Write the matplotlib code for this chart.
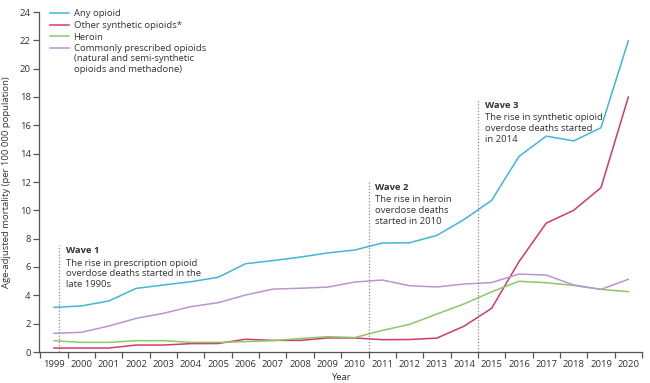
import numpy as np
import matplotlib.pyplot as plt
from matplotlib.ticker import FixedLocator, NullFormatter

plt.rcParams['font.family'] = ['Open Sans', 'DejaVu Sans']

years = list(range(1999, 2021))
any_opioid = [3.15, 3.25, 3.6, 4.49, 4.73, 4.96, 5.27, 6.23, 6.45, 6.7, 6.99, 7.2,
              7.69, 7.71, 8.23, 9.36, 10.7, 13.8, 15.24, 14.9, 15.83, 21.97]
other_synthetic = [0.28, 0.28, 0.28, 0.49, 0.49, 0.59, 0.6, 0.9, 0.82, 0.82, 0.99, 0.99,
                   0.87, 0.88, 0.98, 1.83, 3.08, 6.37, 9.1, 10.0, 11.6, 18.0]
heroin = [0.8, 0.68, 0.68, 0.8, 0.8, 0.68, 0.68, 0.73, 0.8, 0.95, 1.08, 1.02,
          1.52, 1.95, 2.68, 3.4, 4.25, 4.99, 4.89, 4.7, 4.42, 4.26]
prescribed = [1.32, 1.39, 1.83, 2.37, 2.73, 3.2, 3.48, 4.02, 4.44, 4.5, 4.58, 4.94,
              5.08, 4.68, 4.59, 4.8, 4.9, 5.5, 5.43, 4.73, 4.42, 5.13]

series = [
    ("Any opioid", any_opioid, "#41b6d6"),
    ("Other synthetic opioids*", other_synthetic, "#d23a6c"),
    ("Heroin", heroin, "#8cc76e"),
    ("Commonly prescribed opioids", prescribed, "#b895d3"),
]
legend_extra = "(natural and semi-synthetic\nopioids and methadone)"

waves = [
    (1999.18, 7.55, 1999.44, "Wave 1", "The rise in prescription opioid\noverdose deaths started in the\nlate 1990s"),
    (2010.5, 12.0, 2010.72, "Wave 2", "The rise in heroin\noverdose deaths\nstarted in 2010"),
    (2014.5, 17.8, 2014.77, "Wave 3", "The rise in synthetic opioid\noverdose deaths started\nin 2014"),
]

text_col = "#333333"
axis_col = "#555555"

fig = plt.figure(figsize=(6.5, 3.83), dpi=100)
ax = fig.add_axes([39 / 650, 31 / 383, 603 / 650, 340 / 383])

for name, vals, col in series:
    ax.plot(years, vals, color=col, lw=1.1, label=name)

for xl, ytop, xt, title, body in waves:
    ax.plot([xl, xl], [0, ytop], color="#8a8a8a", lw=0.9, ls=(0, (1, 1.5)))
    ax.text(xt, ytop - 0.1, title, fontsize=6.8, fontweight="bold", color=text_col,
            va="top", ha="left")
    ax.text(xt, ytop - 0.95, body, fontsize=6.8, color=text_col, va="top", ha="left",
            linespacing=1.25)

ax.set_xlim(1998.45, 2020.5)
ax.set_ylim(0, 24)
ax.set_yticks(range(0, 25, 2))

ax.xaxis.set_major_locator(FixedLocator([y + 0.5 for y in range(1998, 2021)]))
ax.xaxis.set_major_formatter(NullFormatter())
ax.xaxis.set_minor_locator(FixedLocator(years))
ax.set_xticklabels([str(y) for y in years], minor=True)
ax.tick_params(axis="x", which="major", length=4, width=0.9, color=axis_col)
ax.tick_params(axis="x", which="minor", length=0, pad=6, labelsize=6.8, labelcolor=text_col)
ax.tick_params(axis="y", length=4, width=0.9, color=axis_col, labelsize=6.8,
               labelcolor=text_col, pad=2)

for s in ["top", "right"]:
    ax.spines[s].set_visible(False)
for s in ["left", "bottom"]:
    ax.spines[s].set_color(axis_col)
    ax.spines[s].set_linewidth(0.9)

ax.set_xlabel("Year", fontsize=6.8, color=text_col, labelpad=3)
ax.set_ylabel("Age-adjusted mortality (per 100 000 population)", fontsize=6.8,
              color=text_col, labelpad=6)

leg = ax.legend(loc="upper left", bbox_to_anchor=(0.012, 1.02), frameon=False,
                fontsize=6.8, handlelength=2.0, handletextpad=0.5, labelspacing=0.3,
                borderaxespad=0)
for t in leg.get_texts():
    t.set_color(text_col)

# continuation lines of the last legend entry, under its first line
fig.canvas.draw()
bb = leg.get_texts()[-1].get_window_extent()
x0, y0 = fig.transFigure.inverted().transform((bb.x0, bb.y0 - 1))
fig.text(x0, y0, legend_extra, fontsize=6.8, color=text_col, ha="left", va="top",
         linespacing=1.25)

fig.savefig("out.png", dpi=100)
